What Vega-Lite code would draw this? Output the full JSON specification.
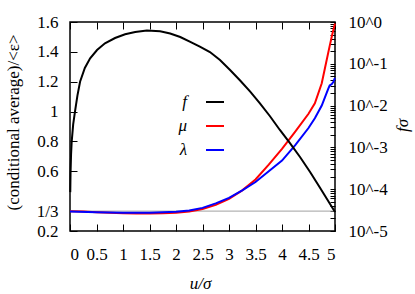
{
  "$schema": "https://vega.github.io/schema/vega-lite/v6.json",
  "width": 265,
  "height": 209,
  "autosize": {"type": "none"},
  "padding": {"left": 70, "top": 22, "right": 80, "bottom": 63},
  "config": {
    "font": "serif",
    "view": {"stroke": "#000000", "strokeWidth": 1.5},
    "axis": {"grid": false, "tickColor": "#000000", "labelColor": "#000000", "titleColor": "#000000", "labelFont": "serif", "titleFont": "serif", "labelFontSize": 17, "titleFontSize": 17, "titleFontWeight": "normal"}
  },
  "data": {"values": [
      {"u": 0.005, "series": "f", "value": 0.0000851},
      {"u": 0.01, "series": "f", "value": 0.00024},
      {"u": 0.02, "series": "f", "value": 0.000676},
      {"u": 0.032, "series": "f", "value": 0.00138},
      {"u": 0.06, "series": "f", "value": 0.00355},
      {"u": 0.094, "series": "f", "value": 0.00714},
      {"u": 0.14, "series": "f", "value": 0.0174},
      {"u": 0.19, "series": "f", "value": 0.0373},
      {"u": 0.28, "series": "f", "value": 0.0794},
      {"u": 0.38, "series": "f", "value": 0.1355},
      {"u": 0.51, "series": "f", "value": 0.2138},
      {"u": 0.66, "series": "f", "value": 0.309},
      {"u": 0.85, "series": "f", "value": 0.414},
      {"u": 1.04, "series": "f", "value": 0.508},
      {"u": 1.23, "series": "f", "value": 0.577},
      {"u": 1.45, "series": "f", "value": 0.627},
      {"u": 1.7, "series": "f", "value": 0.6},
      {"u": 1.89, "series": "f", "value": 0.531},
      {"u": 2.08, "series": "f", "value": 0.438},
      {"u": 2.26, "series": "f", "value": 0.338},
      {"u": 2.45, "series": "f", "value": 0.259},
      {"u": 2.64, "series": "f", "value": 0.191},
      {"u": 2.83, "series": "f", "value": 0.123},
      {"u": 3.02, "series": "f", "value": 0.0711},
      {"u": 3.21, "series": "f", "value": 0.0398},
      {"u": 3.4, "series": "f", "value": 0.0217},
      {"u": 3.58, "series": "f", "value": 0.01153},
      {"u": 3.77, "series": "f", "value": 0.00564},
      {"u": 3.96, "series": "f", "value": 0.00261},
      {"u": 4.15, "series": "f", "value": 0.00127},
      {"u": 4.34, "series": "f", "value": 0.000589},
      {"u": 4.53, "series": "f", "value": 0.000258},
      {"u": 4.72, "series": "f", "value": 0.000107},
      {"u": 5.0, "series": "f", "value": 0.0000285},
      {"u": 0.0, "series": "μ", "value": 0.332},
      {"u": 0.25, "series": "μ", "value": 0.33},
      {"u": 0.5, "series": "μ", "value": 0.326},
      {"u": 0.75, "series": "μ", "value": 0.322},
      {"u": 1.0, "series": "μ", "value": 0.319},
      {"u": 1.25, "series": "μ", "value": 0.317},
      {"u": 1.5, "series": "μ", "value": 0.317},
      {"u": 1.75, "series": "μ", "value": 0.319},
      {"u": 2.0, "series": "μ", "value": 0.323},
      {"u": 2.25, "series": "μ", "value": 0.331},
      {"u": 2.5, "series": "μ", "value": 0.347},
      {"u": 2.75, "series": "μ", "value": 0.375},
      {"u": 3.0, "series": "μ", "value": 0.416},
      {"u": 3.25, "series": "μ", "value": 0.472},
      {"u": 3.5, "series": "μ", "value": 0.545},
      {"u": 3.75, "series": "μ", "value": 0.645},
      {"u": 4.0, "series": "μ", "value": 0.75},
      {"u": 4.25, "series": "μ", "value": 0.865},
      {"u": 4.5, "series": "μ", "value": 0.985},
      {"u": 4.62, "series": "μ", "value": 1.055},
      {"u": 4.75, "series": "μ", "value": 1.19},
      {"u": 4.81, "series": "μ", "value": 1.29},
      {"u": 4.9, "series": "μ", "value": 1.44},
      {"u": 4.95, "series": "μ", "value": 1.52},
      {"u": 5.0, "series": "μ", "value": 1.59},
      {"u": 0.0, "series": "λ", "value": 0.331},
      {"u": 0.5, "series": "λ", "value": 0.326},
      {"u": 1.0, "series": "λ", "value": 0.323},
      {"u": 1.5, "series": "λ", "value": 0.323},
      {"u": 2.0, "series": "λ", "value": 0.329},
      {"u": 2.25, "series": "λ", "value": 0.338},
      {"u": 2.5, "series": "λ", "value": 0.355},
      {"u": 2.75, "series": "λ", "value": 0.385},
      {"u": 3.0, "series": "λ", "value": 0.422},
      {"u": 3.25, "series": "λ", "value": 0.472},
      {"u": 3.5, "series": "λ", "value": 0.528},
      {"u": 3.75, "series": "λ", "value": 0.6},
      {"u": 4.0, "series": "λ", "value": 0.672},
      {"u": 4.25, "series": "λ", "value": 0.775},
      {"u": 4.5, "series": "λ", "value": 0.89},
      {"u": 4.62, "series": "λ", "value": 0.955},
      {"u": 4.75, "series": "λ", "value": 1.04},
      {"u": 4.81, "series": "λ", "value": 1.095},
      {"u": 4.87, "series": "λ", "value": 1.15},
      {"u": 4.9, "series": "λ", "value": 1.175},
      {"u": 4.94, "series": "λ", "value": 1.185},
      {"u": 4.97, "series": "λ", "value": 1.2},
      {"u": 5.0, "series": "λ", "value": 1.225}
  ]},
  "layer": [
    {
      "layer": [
        {
          "data": {"values": [{}]},
          "mark": {"type": "rule", "color": "#a0a0a0", "strokeWidth": 1},
          "encoding": {
            "y": {"datum": 0.3333333, "type": "quantitative", "scale": {"domain": [0.2, 1.6], "nice": false, "zero": false},
              "axis": {"orient": "left", "values": [0.2, 0.3333333, 0.6, 0.8, 1, 1.2, 1.4, 1.6], "tickSize": -7, "labelPadding": 19, "domain": false,
                "labelExpr": "datum.value < 0.3 ? '0.2' : (datum.value < 0.4 ? '1/3' : format(datum.value, '~g'))",
                "title": "(conditional average)/<ε>", "titleX": -57, "titleY": 100, "titleBaseline": "middle", "titleAngle": 270}}
          }
        },
        {
          "transform": [{"filter": {"field": "series", "oneOf": ["μ", "λ"]}}],
          "mark": {"type": "line", "strokeWidth": 2},
          "encoding": {
            "x": {"field": "u", "type": "quantitative", "scale": {"domain": [0, 5], "nice": false},
              "axis": {"orient": "top", "values": [0, 0.5, 1, 1.5, 2, 2.5, 3, 3.5, 4, 4.5, 5], "labels": false, "tickSize": -7, "domain": false, "title": null}},
            "y": {"field": "value", "type": "quantitative", "scale": {"domain": [0.2, 1.6], "nice": false, "zero": false},
              "axis": {"orient": "left", "values": [0.2, 0.3333333, 0.6, 0.8, 1, 1.2, 1.4, 1.6], "tickSize": -7, "labelPadding": 19, "domain": false,
                "labelExpr": "datum.value < 0.3 ? '0.2' : (datum.value < 0.4 ? '1/3' : format(datum.value, '~g'))",
                "title": "(conditional average)/<ε>", "titleX": -57, "titleY": 100, "titleBaseline": "middle", "titleAngle": 270}},
            "color": {"field": "series", "type": "nominal",
              "scale": {"domain": ["f", "μ", "λ"], "range": ["#000000", "#ff0000", "#0000ff"]},
              "legend": {"orient": "none", "legendX": 135, "legendY": 70, "title": null, "symbolType": "stroke", "symbolSize": 324, "symbolStrokeWidth": 2, "labelAlign": "right", "labelOffset": -38, "labelFontStyle": "italic", "labelFontSize": 17, "rowPadding": 6, "labelColor": "#000000"}}
          }
        }
      ]
    },
    {
      "transform": [{"filter": {"field": "series", "equal": "f"}}],
      "mark": {"type": "line", "strokeWidth": 2},
      "encoding": {
        "x": {"field": "u", "type": "quantitative", "scale": {"domain": [0, 5], "nice": false},
          "axis": {"orient": "bottom", "values": [0, 0.5, 1, 1.5, 2, 2.5, 3, 3.5, 4, 4.5, 5], "format": "~g", "tickSize": -7, "labelPadding": 22, "domain": false,
            "title": "u/σ", "titleFontStyle": "italic", "titleX": 130, "titleY": 52, "titleBaseline": "middle"}},
        "y": {"field": "value", "type": "quantitative", "scale": {"type": "log", "domain": [0.00001, 1], "nice": false},
          "axis": {"orient": "right", "domain": false,
            "values": [0.00001, 0.00002, 0.00003, 0.00004, 0.00005, 0.00006, 0.00007, 0.00008, 0.00009, 0.0001, 0.0002, 0.0003, 0.0004, 0.0005, 0.0006, 0.0007, 0.0008, 0.0009, 0.001, 0.002, 0.003, 0.004, 0.005, 0.006, 0.007, 0.008, 0.009, 0.01, 0.02, 0.03, 0.04, 0.05, 0.06, 0.07, 0.08, 0.09, 0.1, 0.2, 0.3, 0.4, 0.5, 0.6, 0.7, 0.8, 0.9, 1],
            "tickSize": -5,
            "labelPadding": 18, "labelAlign": "left",
            "labelExpr": "abs(log(datum.value)/LN10 - round(log(datum.value)/LN10)) < 0.000001 ? '10^' + round(log(datum.value)/LN10) : ''",
            "title": "fσ", "titleFontStyle": "italic", "titleX": 67, "titleY": 103, "titleBaseline": "middle", "titleAngle": 270}},
        "color": {"field": "series", "type": "nominal",
          "scale": {"domain": ["f", "μ", "λ"], "range": ["#000000", "#ff0000", "#0000ff"]}}
      }
    }
  ],
  "resolve": {"scale": {"y": "independent"}, "axis": {"x": "independent"}}
}
